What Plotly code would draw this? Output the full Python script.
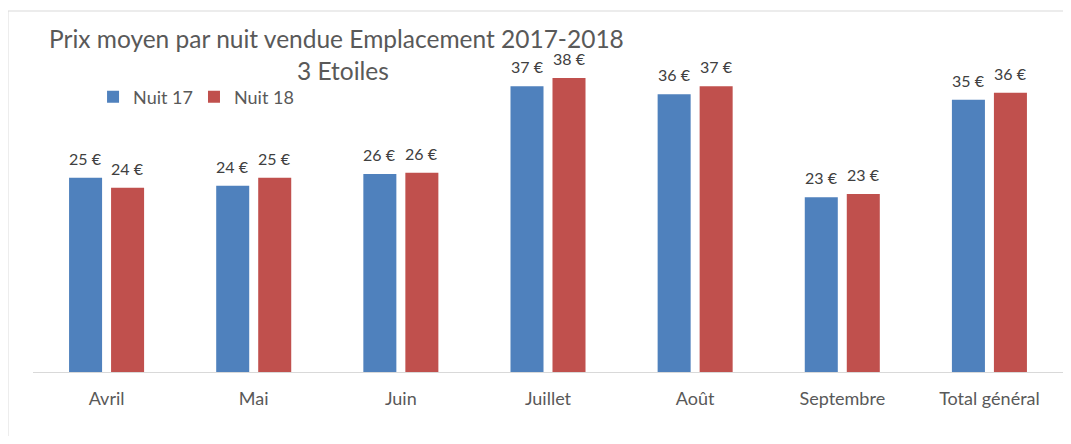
import plotly.graph_objects as go

# --- données ---
mois = ["Avril", "Mai", "Juin", "Juillet", "Août", "Septembre", "Total général"]
nuit_17 = [25.07, 24.04, 25.55, 36.86, 35.83, 22.54, 35.14]
nuit_18 = [23.78, 25.07, 25.72, 37.94, 36.86, 22.97, 36.04]

BLEU = "#4F81BD"
ROUGE = "#C0504D"
FONT = "Lato, Carlito, Calibri, sans-serif"

fig = go.Figure()

# une légende par série pour placer chaque entrée librement
series = [("Nuit 17", nuit_17, BLEU, -21, "legend"),
          ("Nuit 18", nuit_18, ROUGE, 21, "legend2")]
for nom, vals, col, dx, leg in series:
    fig.add_trace(go.Bar(
        x=mois, y=vals, name=nom, legend=leg,
        marker=dict(color=col, line=dict(width=0)),
    ))
    # étiquettes de données un peu au-dessus des barres (comme Excel)
    for m, v in zip(mois, vals):
        fig.add_annotation(x=m, y=v, text=f"{v:.0f} €", showarrow=False,
                           xshift=dx, yshift=8, yanchor="bottom",
                           font=dict(size=16, color="#404040", family=FONT))

# cadre du graphique (style Excel)
fig.add_shape(type="rect", xref="paper", yref="paper",
              x0=-0.0243, x1=1.1, y0=-0.4, y1=1.1645,
              line=dict(color="#d9d9d9", width=1), layer="below")

# titre sur deux lignes
fig.add_annotation(text="Prix moyen par nuit vendue Emplacement 2017-2018",
                   xref="paper", yref="paper", x=0.295, y=1.077,
                   xanchor="center", yanchor="middle", showarrow=False,
                   font=dict(size=24.5, color="#595959", family=FONT))
fig.add_annotation(text="3 Etoiles",
                   xref="paper", yref="paper", x=0.301, y=0.971,
                   xanchor="center", yanchor="middle", showarrow=False,
                   font=dict(size=24.5, color="#595959", family=FONT))

leg_style = dict(orientation="h", y=0.887, xanchor="left", yanchor="middle",
                 font=dict(size=18, color="#595959"), bgcolor="rgba(0,0,0,0)",
                 itemwidth=30)

fig.update_layout(
    width=1055, height=428,
    margin=dict(l=25, r=0, t=54, b=64),
    paper_bgcolor="white", plot_bgcolor="white",
    font=dict(family=FONT, color="#595959"),
    barmode="group", bargap=0.429, bargroupgap=0.214,
    showlegend=True,
    legend=dict(x=0.0583, **leg_style),
    legend2=dict(x=0.1563, **leg_style),
)
fig.update_xaxes(showline=True, linecolor="#d9d9d9", linewidth=1, ticks="",
                 tickfont=dict(size=18, color="#595959"), showgrid=False,
                 ticklabelstandoff=10)
fig.update_yaxes(range=[0, 40], visible=False, showgrid=False)

fig.write_html("out.html")
